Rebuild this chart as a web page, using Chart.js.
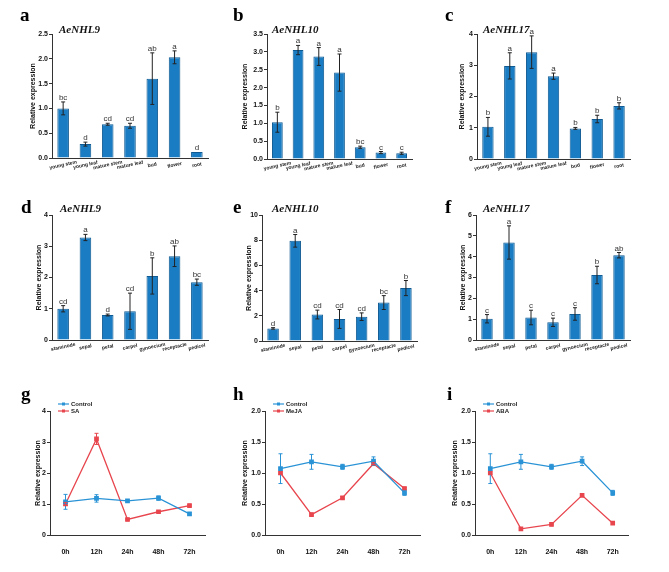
<!DOCTYPE html>
<html><head><meta charset="utf-8">
<script src="https://cdn.jsdelivr.net/npm/chart.js@4"></script>
<style>
body{margin:0;background:#fff;}
#wrap{position:relative;width:669px;height:572px;overflow:hidden;background:#fff}
canvas{position:absolute}
.lab{position:absolute;font:bold 19px "Liberation Serif";color:#000;line-height:1}
.gene{position:absolute;font:italic bold 11px "Liberation Serif";color:#111;line-height:1}
</style></head><body><div id="wrap"></div>
<script>
// ---------- data ----------
const organCats = ["young stem","young leaf","mature stem","mature leaf","bud","flower","root"];
const flowerCats = ["staminode","sepal","petal","carpel","gynoecium","receptacle","pedicel"];
const timeCats = ["0h","12h","24h","48h","72h"];

const aValues = [1.0, 0.28, 0.68, 0.65, 1.60, 2.03, 0.12];
const aErr    = [0.13, 0.04, 0.02, 0.05, 0.52, 0.13, 0.01];
const aSig    = ["bc","d","cd","cd","ab","a","d"];

const bValues = [1.03, 3.05, 2.87, 2.42, 0.33, 0.18, 0.16];
const bErr    = [0.28, 0.13, 0.25, 0.52, 0.03, 0.03, 0.03];
const bSig    = ["b","a","a","a","bc","c","c"];

const cValues = [1.03, 2.98, 3.42, 2.65, 0.98, 1.28, 1.70];
const cErr    = [0.30, 0.42, 0.52, 0.10, 0.03, 0.12, 0.10];
const cSig    = ["b","a","a","a","b","b","b"];

const dValues = [1.00, 3.28, 0.80, 0.92, 2.05, 2.68, 1.85];
const dErr    = [0.10, 0.10, 0.03, 0.58, 0.58, 0.33, 0.10];
const dSig    = ["cd","a","d","cd","b","ab","bc"];

const eValues = [1.00, 7.95, 2.10, 1.75, 1.93, 3.05, 4.20];
const eErr    = [0.06, 0.50, 0.35, 0.75, 0.30, 0.55, 0.60];
const eSig    = ["d","a","cd","cd","cd","bc","b"];

const fValues = [1.02, 4.68, 1.08, 0.85, 1.25, 3.12, 4.07];
const fErr    = [0.20, 0.80, 0.35, 0.20, 0.30, 0.42, 0.13];
const fSig    = ["c","a","c","c","c","b","ab"];

const controlValues = [1.07, 1.18, 1.10, 1.19, 0.68];
const controlErr    = [0.24, 0.12, 0.04, 0.07, 0.04];
const saValues   = [1.00, 3.10, 0.50, 0.75, 0.95];
const saErr      = [0.05, 0.18, 0.02, 0.02, 0.02];
const mejaValues = [1.00, 0.33, 0.60, 1.15, 0.75];
const mejaErr    = [0.02, 0.02, 0.02, 0.02, 0.02];
const abaValues  = [1.00, 0.10, 0.17, 0.64, 0.19];
const abaErr     = [0.02, 0.01, 0.01, 0.01, 0.01];

const geneTitles = ["AeNHL9","AeNHL10","AeNHL17"];
const panelLetters = ["a","b","c","d","e","f","g","h","i"];
const treatNames = ["SA","MeJA","ABA"];
const yTitle = "Relative expression";

// ---------- styling ----------
const SANS = '"Liberation Sans", Arial, sans-serif';
const BAR_FILL = '#1a7dc4', BAR_EDGE = '#0f5a92';
const BLUE = '#2a93d6', RED = '#e8464e';
const AXIS = '#333';

const wrap = document.getElementById('wrap');

const errPlugin = {
  id: 'errbars',
  afterDatasetsDraw(chart) {
    const {ctx, scales: {x, y}} = chart;
    chart.data.datasets.forEach((ds) => {
      if (!ds.err) return;
      ds.data.forEach((v, i) => {
        const e = ds.err[i];
        const px = x.getPixelForValue(i);
        const top = y.getPixelForValue(v + e), bot = y.getPixelForValue(Math.max(0, v - e));
        ctx.save();
        ctx.strokeStyle = ds.errColor; ctx.lineWidth = 1;
        const cap = ds.cap || 2;
        if (e > 0.015) {
          ctx.beginPath();
          ctx.moveTo(px, top); ctx.lineTo(px, bot);
          ctx.moveTo(px - cap, top); ctx.lineTo(px + cap, top);
          ctx.moveTo(px - cap, bot); ctx.lineTo(px + cap, bot);
          ctx.stroke();
        }
        if (ds.sig) {
          ctx.fillStyle = '#333';
          ctx.font = '8px ' + SANS;
          ctx.textAlign = 'center'; ctx.textBaseline = 'alphabetic';
          ctx.fillText(ds.sig[i], px, top - 2);
        }
        ctx.restore();
      });
    });
  }
};

const yTitlePlugin = {
  id: 'ytitle',
  afterDraw(chart, args, opts) {
    const {ctx, chartArea} = chart;
    ctx.save();
    ctx.translate(chartArea.left + opts.offset, (chartArea.top + chartArea.bottom) / 2);
    ctx.rotate(-Math.PI / 2);
    ctx.fillStyle = '#111';
    ctx.font = 'bold 7px ' + SANS;
    ctx.textAlign = 'center'; ctx.textBaseline = 'middle';
    ctx.fillText(yTitle, 0, 0);
    ctx.restore();
  }
};

const xLabelPlugin = {
  id: 'xlabels',
  afterDraw(chart, args, opts) {
    if (!opts.on) return;
    const {ctx, chartArea, scales: {x}} = chart;
    chart.data.labels.forEach((lab, i) => {
      const px = x.getPixelForValue(i);
      ctx.save();
      ctx.translate(px, chartArea.bottom + 7);
      ctx.rotate(-12 * Math.PI / 180);
      ctx.fillStyle = '#222';
      ctx.font = 'bold 5px ' + SANS;
      ctx.textAlign = 'center'; ctx.textBaseline = 'middle';
      ctx.fillText(lab, 0, 0);
      ctx.restore();
    });
  }
};

const legendPlugin = {
  id: 'minilegend',
  afterDraw(chart, args, opts) {
    if (!opts.on) return;
    const {ctx, chartArea} = chart;
    chart.data.datasets.forEach((ds, k) => {
      const yy = chartArea.top - 7 + k * 7;
      const x0 = chartArea.left + 8, x1 = chartArea.left + 19;
      ctx.save();
      ctx.strokeStyle = ds.borderColor; ctx.lineWidth = 1.2;
      ctx.beginPath(); ctx.moveTo(x0, yy); ctx.lineTo(x1, yy); ctx.stroke();
      ctx.fillStyle = ds.borderColor;
      ctx.fillRect((x0 + x1) / 2 - 1.5, yy - 1.5, 3, 3);
      ctx.fillStyle = '#222';
      ctx.font = 'bold 6px ' + SANS;
      ctx.textAlign = 'left'; ctx.textBaseline = 'middle';
      ctx.fillText(ds.label, x1 + 2, yy);
      ctx.restore();
    });
  }
};

function makeCanvas(area, bottomExtra) {
  const left = area[0] - 45, top = area[1] - 15;
  const w = area[2] - left + 10, h = area[3] - top + bottomExtra;
  const c = document.createElement('canvas');
  c.width = w; c.height = h;
  c.style.left = left + 'px'; c.style.top = top + 'px';
  c.style.width = w + 'px'; c.style.height = h + 'px';
  wrap.appendChild(c);
  return c;
}

function yScale(max, step, dec) {
  return {
    min: 0, max: max,
    ticks: {stepSize: step, color: '#111', padding: 1, font: {family: SANS, size: 7, weight: 'bold'},
            callback: v => Number(v).toFixed(dec)},
    grid: {display: true, drawOnChartArea: false, drawTicks: true, tickLength: 3, color: AXIS},
    border: {display: true, color: AXIS, width: 1},
    afterFit(s) { s.width = 45; }
  };
}

function barChart(area, cats, vals, err, sig, max, step, dec, off) {
  const c = makeCanvas(area, 30);
  new Chart(c, {
    type: 'bar',
    data: {labels: cats, datasets: [{data: vals, err: err, sig: sig, errColor: '#222', cap: 2,
      backgroundColor: BAR_FILL, borderColor: BAR_EDGE, borderWidth: 1,
      barPercentage: 0.52, categoryPercentage: 1}]},
    options: {
      responsive: false, animation: false, events: [],
      layout: {padding: {left: 0, top: 15, right: 10, bottom: 0}},
      plugins: {legend: {display: false}, tooltip: {enabled: false},
        ytitle: {offset: off}, xlabels: {on: true}, minilegend: {on: false}},
      scales: {
        x: {grid: {display: false}, border: {display: true, color: AXIS, width: 1},
            ticks: {display: false}, afterFit(s) { s.height = 30; }},
        y: yScale(max, step, dec)
      }
    },
    plugins: [errPlugin, yTitlePlugin, xLabelPlugin, legendPlugin]
  });
}

function lineChart(area, treat, tVals, tErr, max, step, dec, off) {
  const c = makeCanvas(area, 25);
  new Chart(c, {
    type: 'line',
    data: {labels: timeCats, datasets: [
      {label: 'Control', data: controlValues, err: controlErr, errColor: BLUE, cap: 2,
       borderColor: BLUE, backgroundColor: BLUE, borderWidth: 1.3, pointStyle: 'rect', pointRadius: 2.4, tension: 0},
      {label: treat, data: tVals, err: tErr, errColor: RED, cap: 2,
       borderColor: RED, backgroundColor: RED, borderWidth: 1.3, pointStyle: 'rect', pointRadius: 2.4, tension: 0}
    ]},
    options: {
      responsive: false, animation: false, events: [],
      layout: {padding: {left: 0, top: 15, right: 10, bottom: 0}},
      plugins: {legend: {display: false}, tooltip: {enabled: false},
        ytitle: {offset: off}, xlabels: {on: false}, minilegend: {on: true}},
      scales: {
        x: {offset: true, grid: {display: false}, border: {display: true, color: AXIS, width: 1},
            ticks: {color: '#111', padding: 5, maxRotation: 0, font: {family: SANS, size: 7, weight: 'bold'}},
            afterFit(s) { s.height = 25; }},
        y: yScale(max, step, dec)
      }
    },
    plugins: [errPlugin, yTitlePlugin, xLabelPlugin, legendPlugin]
  });
}

barChart([52, 34, 208, 158], organCats, aValues, aErr, aSig, 2.5, 0.5, 1, -19);
barChart([267, 34, 412, 159], organCats, bValues, bErr, bSig, 3.5, 0.5, 1, -22);
barChart([477, 34, 630, 159], organCats, cValues, cErr, cSig, 4, 1, 0, -15);
barChart([52, 215, 208, 340], flowerCats, dValues, dErr, dSig, 4, 1, 0, -13);
barChart([262, 215, 417, 341], flowerCats, eValues, eErr, eSig, 10, 2, 0, -13);
barChart([476, 215, 630, 340], flowerCats, fValues, fErr, fSig, 6, 1, 0, -13);
lineChart([50, 411, 205, 535], treatNames[0], saValues, saErr, 4, 1, 0, -12);
lineChart([265, 411, 420, 535], treatNames[1], mejaValues, mejaErr, 2, 0.5, 1, -20);
lineChart([475, 411, 628, 535], treatNames[2], abaValues, abaErr, 2, 0.5, 1, -20);

// panel letters and gene titles
const letterPos = [[20,5],[233,5],[445,5],[21,197],[233,197],[445,197],[21,384],[233,384],[447,384]];
panelLetters.forEach((t, k) => {
  const d = document.createElement('div'); d.className = 'lab'; d.textContent = t;
  d.style.left = letterPos[k][0] + 'px'; d.style.top = letterPos[k][1] + 'px'; wrap.appendChild(d);
});
const genePos = [[59,24],[272,24],[483,24],[60,203],[272,203],[483,203]];
genePos.forEach((p, k) => {
  const d = document.createElement('div'); d.className = 'gene'; d.textContent = geneTitles[k % 3];
  d.style.left = p[0] + 'px'; d.style.top = p[1] + 'px'; wrap.appendChild(d);
});
</script></body></html>
